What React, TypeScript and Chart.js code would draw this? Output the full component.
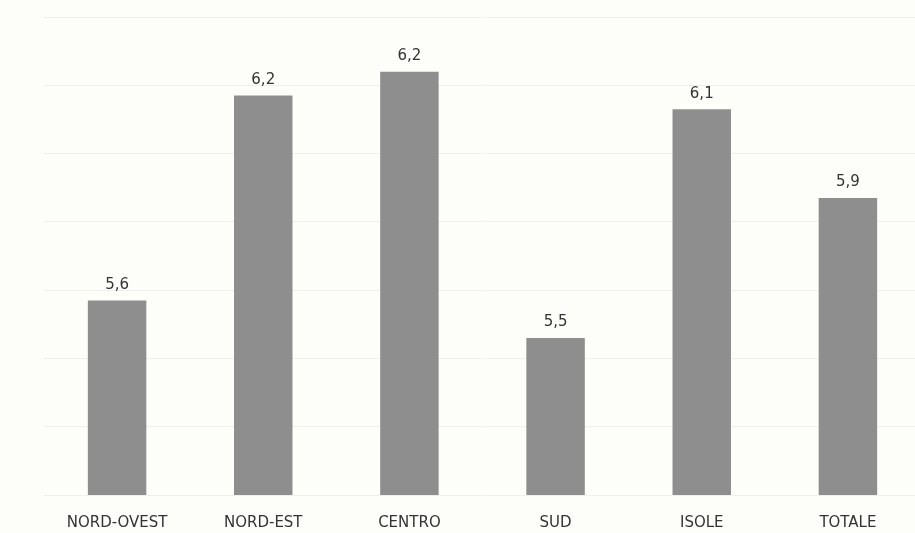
import React, { useEffect, useRef } from "react";
import { Chart, registerables } from "chart.js";

Chart.register(...registerables);

const categories = ["NORD-OVEST", "NORD-EST", "CENTRO", "SUD", "ISOLE", "TOTALE"];
const values = [5.57, 6.17, 6.24, 5.46, 6.13, 5.87];
const yMin = 5.0;
const yMax = 6.4;
const yStep = 0.2;

const FONT = "'DejaVu Sans', sans-serif";

const bgPlugin = {
  id: "bgFill",
  beforeDraw(chart: any) {
    const { ctx, width, height } = chart;
    ctx.save();
    ctx.fillStyle = "#fdfdfa";
    ctx.fillRect(0, 0, width, height);
    ctx.restore();
  },
};

const valueLabels = {
  id: "valueLabels",
  afterDatasetsDraw(chart: any) {
    const { ctx } = chart;
    const meta = chart.getDatasetMeta(0);
    ctx.save();
    ctx.fillStyle = "#333333";
    ctx.font = `15px ${FONT}`;
    ctx.textAlign = "center";
    ctx.textBaseline = "bottom";
    meta.data.forEach((bar: any, i: number) => {
      const txt = values[i].toFixed(1).replace(".", ",");
      ctx.fillText(txt, bar.x, bar.y - 8);
    });
    ctx.restore();
  },
};

export default function App() {
  const ref = useRef<HTMLCanvasElement | null>(null);

  useEffect(() => {
    document.body.style.margin = "0";
    if (!ref.current) return;
    const chart = new Chart(ref.current, {
      type: "bar",
      data: {
        labels: categories,
        datasets: [
          {
            data: values,
            backgroundColor: "#8e8e8e",
            borderWidth: 0,
            barPercentage: 0.8,
            categoryPercentage: 0.5,
          },
        ],
      },
      options: {
        animation: false,
        responsive: false,
        maintainAspectRatio: false,
        layout: { padding: { left: 44, right: 19, top: 17, bottom: 0 } },
        plugins: {
          legend: { display: false },
          tooltip: { enabled: false },
        },
        scales: {
          x: {
            offset: true,
            grid: { display: false, drawTicks: false },
            border: { display: false },
            ticks: {
              color: "#333333",
              font: { family: FONT, size: 15 },
              padding: 19,
              maxRotation: 0,
            },
            afterFit: (s: any) => {
              s.height = 38;
            },
          },
          y: {
            min: yMin,
            max: yMax,
            ticks: { display: false, stepSize: yStep },
            grid: { color: "#efefec", lineWidth: 1, drawTicks: false },
            border: { display: false },
            afterFit: (s: any) => {
              s.width = 0;
            },
          },
        },
      },
      plugins: [bgPlugin, valueLabels],
    });
    return () => chart.destroy();
  }, []);

  return (
    <div
      style={{
        position: "fixed",
        left: 0,
        top: 0,
        width: 915,
        height: 533,
        overflow: "hidden",
        background: "#fdfdfa",
      }}
    >
      <canvas ref={ref} width={940} height={533} style={{ display: "block" }} />
    </div>
  );
}
